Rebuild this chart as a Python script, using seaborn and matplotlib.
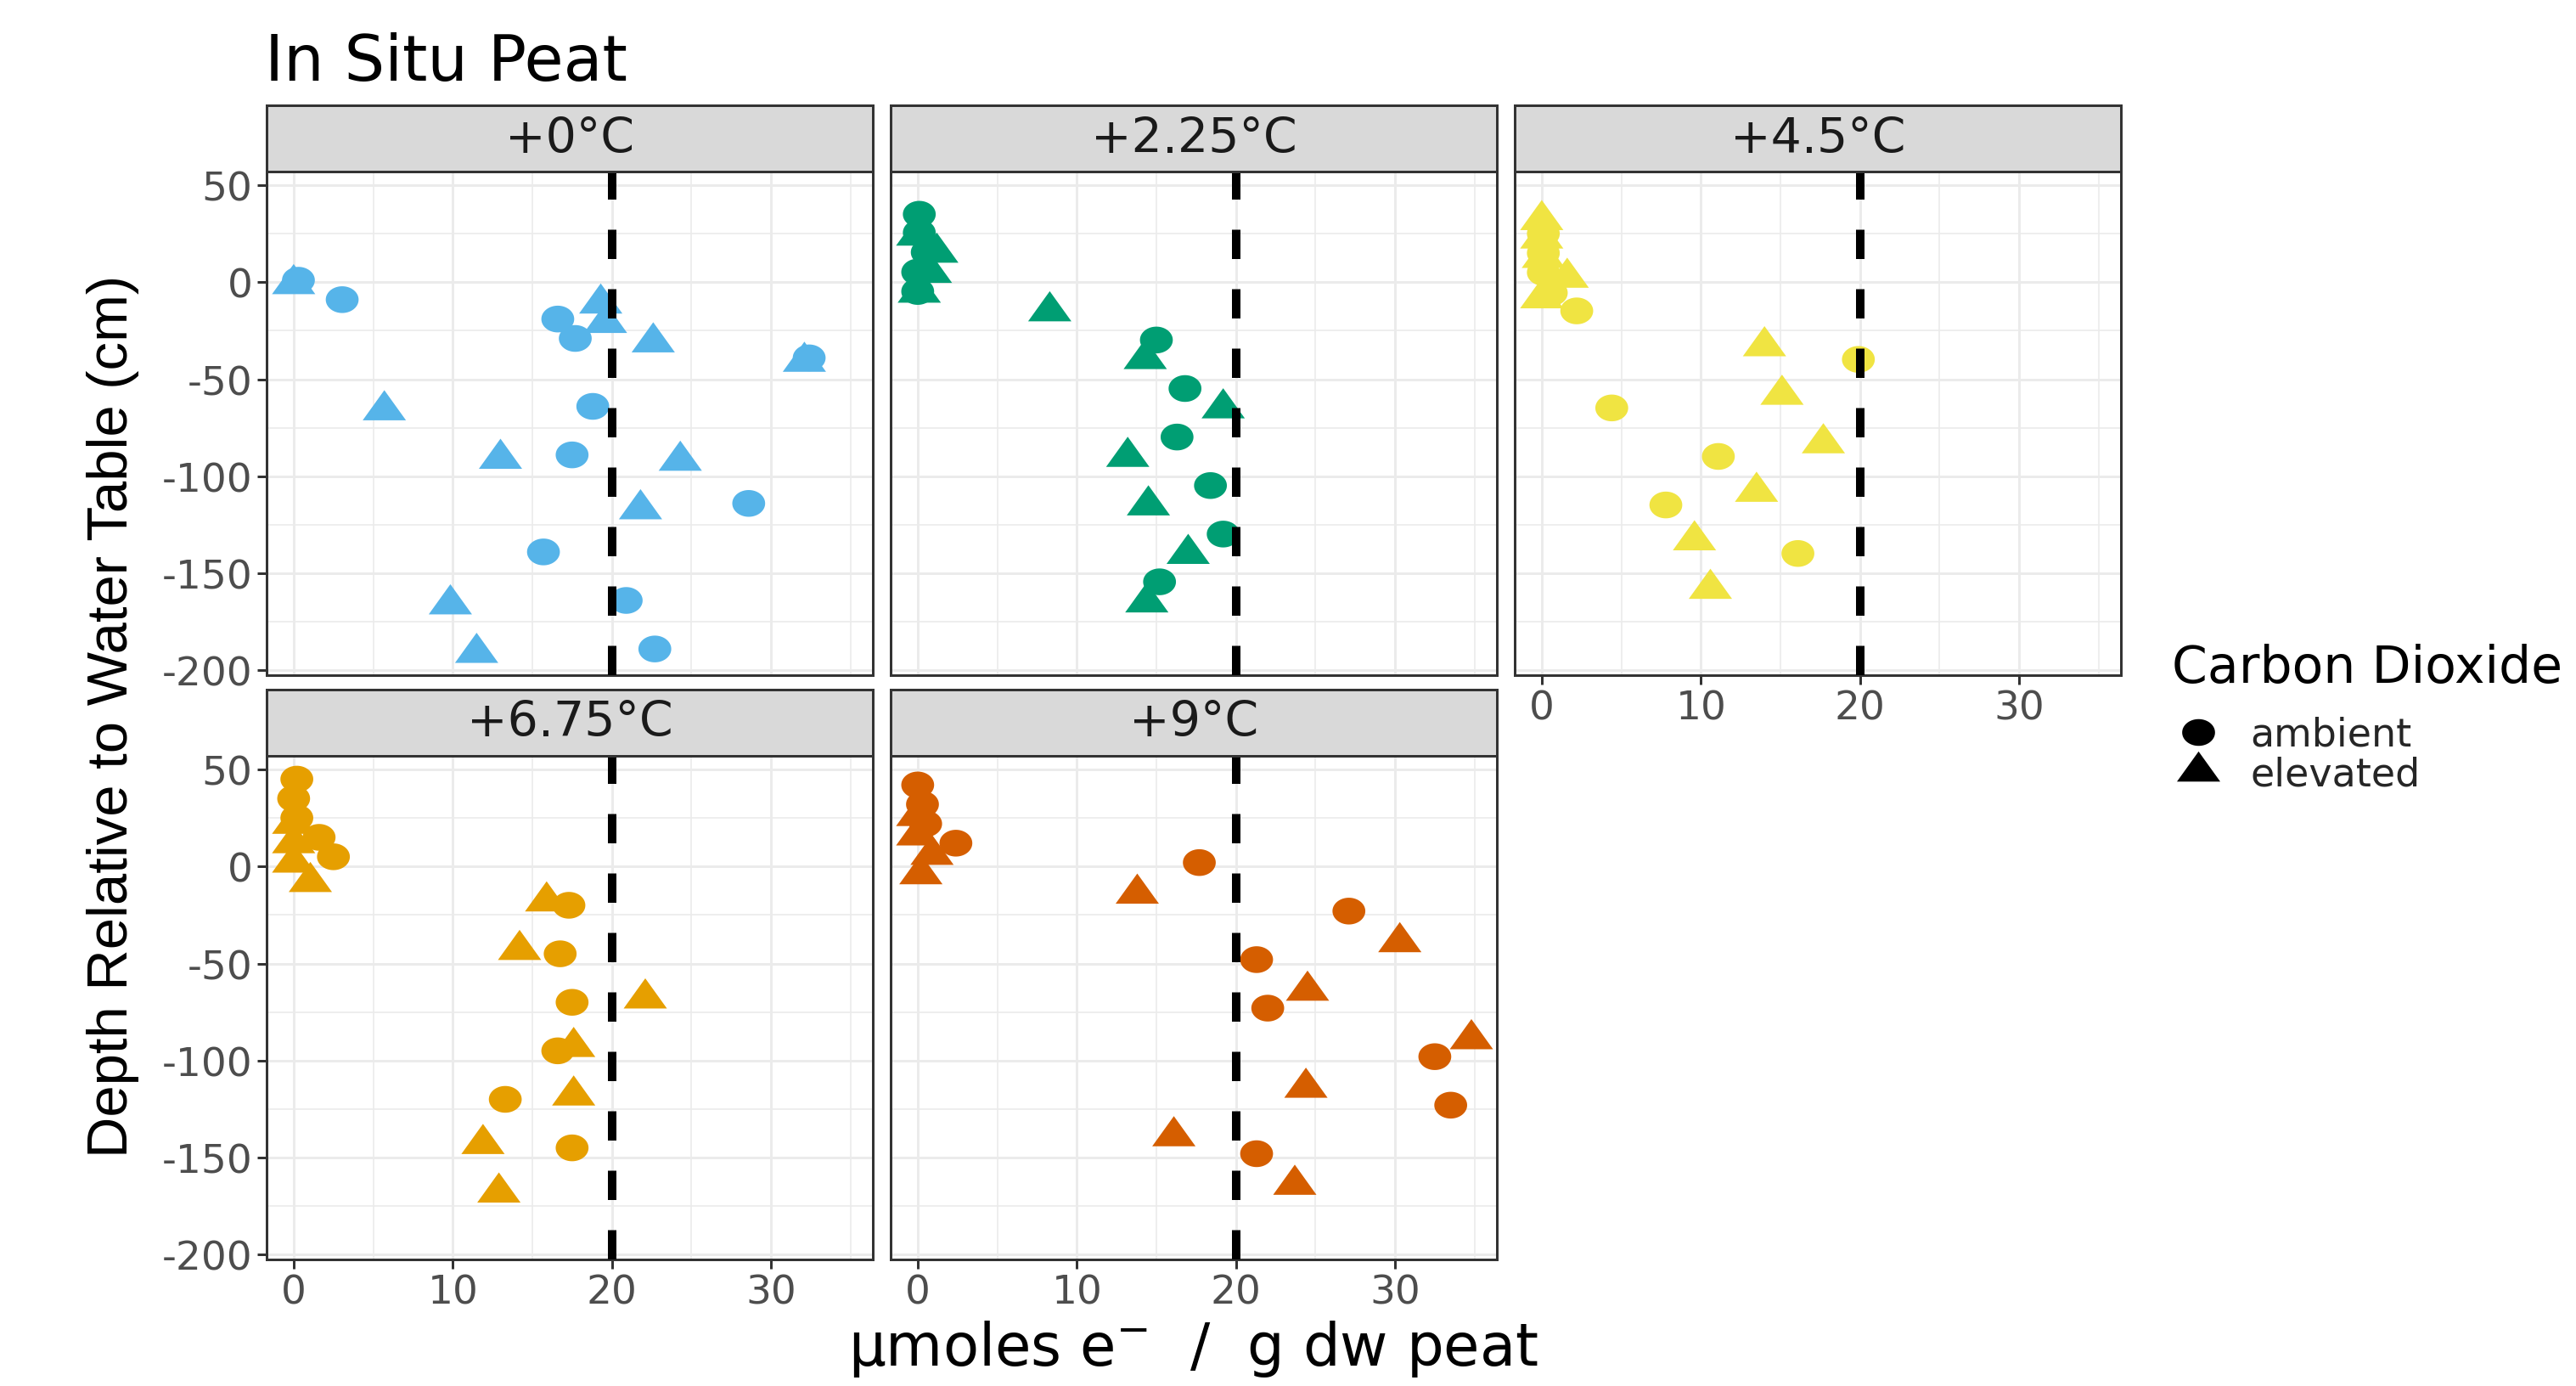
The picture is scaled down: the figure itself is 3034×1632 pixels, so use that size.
import numpy as np
import pandas as pd
import matplotlib
matplotlib.use("Agg")
import matplotlib.pyplot as plt
from matplotlib.path import Path
from matplotlib.lines import Line2D
import seaborn as sns

# ---------------- data ----------------
panels = ["+0°C", "+2.25°C", "+4.5°C", "+6.75°C", "+9°C"]
panel_colors = ["#56B4E9", "#009E73", "#F0E442", "#E69F00", "#D55E00"]
co2_levels = ["ambient", "elevated"]

# +0°C
amb_x_0 = [0.3, 3.05, 16.6, 17.7, 32.4, 18.8, 17.5, 28.6, 15.7, 20.9, 22.7]
amb_y_0 = [1, -9, -19, -29, -39, -64, -89, -114, -139, -164, -189]
elv_x_0 = [0.0, 19.3, 19.6, 22.6, 32.1, 5.7, 13.0, 24.3, 21.8, 9.85, 11.5]
elv_y_0 = [-1, -11, -21, -31, -41, -66, -91, -92, -117, -166, -191]
# +2.25°C
amb_x_1 = [0.1, 0.1, 0.6, 0.0, 0.0, 15.0, 16.8, 16.3, 18.4, 19.2, 15.2]
amb_y_1 = [35, 25.5, 15.4, 5.2, -4.8, -29.8, -54.8, -79.8, -104.8, -129.8, -154.4]
elv_x_1 = [0.0, 1.2, 0.8, 0.1, 8.3, 14.3, 19.2, 13.2, 14.5, 17.0, 14.4]
elv_y_1 = [24, 15.2, 4.8, -5.4, -15, -39.6, -65, -90, -115, -140, -165]
# +4.5°C
amb_x_2 = [0.1, 0.1, 0.1, 0.6, 2.2, 19.9, 4.4, 11.1, 7.8, 16.1]
amb_y_2 = [25, 15, 5, -5.5, -14.8, -39.8, -64.8, -89.8, -114.8, -139.8]
elv_x_2 = [0.0, 0.0, 0.1, 1.6, 0.0, 14.0, 15.1, 17.7, 13.5, 9.6, 10.6]
elv_y_2 = [32, 22.5, 12.5, 2.3, -8.3, -33, -58, -83, -108, -133, -158]
# +6.75°C
amb_x_3 = [0.2, 0.0, 0.2, 1.6, 2.5, 17.3, 16.75, 17.5, 16.6, 13.3, 17.5]
amb_y_3 = [45, 35, 25, 15, 5, -20, -45, -70, -95, -120, -145]
elv_x_3 = [0.0, 0.0, 0.0, 1.05, 15.9, 14.2, 22.1, 17.6, 17.6, 11.9, 12.9]
elv_y_3 = [22, 12, 2, -8, -18, -43, -68, -93, -118, -143, -168]
# +9°C
amb_x_4 = [0.0, 0.3, 0.5, 2.4, 17.7, 27.1, 21.3, 22.0, 32.5, 33.5, 21.3]
amb_y_4 = [42, 32, 22, 12, 2, -23, -48, -73, -98, -123, -148]
elv_x_4 = [0.0, 0.0, 0.9, 0.2, 13.8, 30.3, 24.5, 34.8, 24.4, 16.1, 23.7]
elv_y_4 = [26, 16, 6, -4, -14, -39, -64, -89, -114, -139, -164]

threshold = 20
x_ticks = [0, 10, 20, 30]
x_tick_labels = ["0", "10", "20", "30"]
y_ticks = [50, 0, -50, -100, -150, -200]
y_tick_labels = ["50", "0", "-50", "-100", "-150", "-200"]

amb_x = [amb_x_0, amb_x_1, amb_x_2, amb_x_3, amb_x_4]
amb_y = [amb_y_0, amb_y_1, amb_y_2, amb_y_3, amb_y_4]
elv_x = [elv_x_0, elv_x_1, elv_x_2, elv_x_3, elv_x_4]
elv_y = [elv_y_0, elv_y_1, elv_y_2, elv_y_3, elv_y_4]

rows = []
for p, ax_, ay_, ex_, ey_ in zip(panels, amb_x, amb_y, elv_x, elv_y):
    for v, d in zip(ax_, ay_):
        rows.append((p, "ambient", v, d))
    for v, d in zip(ex_, ey_):
        rows.append((p, "elevated", v, d))
df = pd.DataFrame(rows, columns=["panel", "co2", "value", "depth"])

# ---------------- style ----------------
W, H, DPI = 3034, 1633, 100
sns.set_theme(style="white")
plt.rcParams["font.family"] = ["DejaVu Sans"]
plt.rcParams["axes.unicode_minus"] = False

PT = 72.0 / DPI  # px -> pt


def ellipse_path(w, h, n=72):
    t = np.linspace(0, 2 * np.pi, n)
    verts = np.column_stack([w / 2 * np.cos(t), h / 2 * np.sin(t)])
    codes = [Path.MOVETO] + [Path.LINETO] * (n - 2) + [Path.CLOSEPOLY]
    return Path(verts, codes)


def triangle_path(w, h):
    verts = [(0, 2 * h / 3), (-w / 2, -h / 3), (w / 2, -h / 3), (0, 2 * h / 3)]
    codes = [Path.MOVETO, Path.LINETO, Path.LINETO, Path.CLOSEPOLY]
    return Path(verts, codes)


circ_w, circ_h = 38.7, 31.5
tri_w, tri_h = 51.0, 35.5
circ_marker = ellipse_path(circ_w, circ_h)
tri_marker = triangle_path(tri_w, tri_h)
circ_ms = circ_w * PT            # marker size in pt (max extent = width)
tri_ms = tri_w * PT
markers = {"ambient": (circ_marker, circ_ms), "elevated": (tri_marker, tri_ms)}

col_x = [(314, 1028), (1049, 1763), (1784, 2498)]
row_y = [(203, 796), (891, 1484)]
strip_h = 78
xlim = (-1.7, 36.4)
ylim = (-202.5, 57.0)

grid_c = "#EBEBEB"
border_c = "#333333"
tick_c = "#4D4D4D"
tick_fs = 47 * PT


def rect(x0, y0, x1, y1):
    return [x0 / W, 1 - y1 / H, (x1 - x0) / W, (y1 - y0) / H]


fig = plt.figure(figsize=(W / DPI, H / DPI), dpi=DPI)
fig.patch.set_facecolor("white")

for i, (name, color) in enumerate(zip(panels, panel_colors)):
    r, c = divmod(i, 3)
    (x0, x1), (y0, y1) = col_x[c], row_y[r]
    ax = fig.add_axes(rect(x0, y0, x1, y1))
    ax.set_facecolor("white")
    sub = df[df["panel"] == name]
    for lvl in ["elevated", "ambient"]:
        mk, ms = markers[lvl]
        sns.scatterplot(data=sub[sub["co2"] == lvl], x="value", y="depth",
                        marker=mk, s=ms ** 2, color=color, linewidth=0,
                        edgecolor="none", legend=False, ax=ax, zorder=3)
    ax.axvline(threshold, color="black", lw=10 * PT, dashes=(3.45, 3.55),
               zorder=4)
    ax.set_xlim(*xlim)
    ax.set_ylim(*ylim)
    ax.set_xlabel("")
    ax.set_ylabel("")
    ax.set_xticks(x_ticks)
    ax.set_xticks([5, 15, 25, 35], minor=True)
    ax.set_yticks(y_ticks)
    ax.set_yticks([25, -25, -75, -125, -175], minor=True)
    ax.set_axisbelow(True)
    ax.grid(which="major", color=grid_c, lw=3 * PT)
    ax.grid(which="minor", color=grid_c, lw=1.6 * PT)
    for s in ax.spines.values():
        s.set_color(border_c)
        s.set_linewidth(3 * PT)
    ax.tick_params(which="minor", length=0)
    ax.tick_params(which="major", length=11 * PT, width=3 * PT, color=border_c,
                   labelsize=tick_fs, labelcolor=tick_c)
    ax.tick_params(axis="y", pad=4.0)
    ax.tick_params(axis="x", pad=4.0)
    show_y = (c == 0)
    show_x = (r == 1) or (i == 2)
    ax.tick_params(axis="y", left=show_y, labelleft=show_y)
    ax.tick_params(axis="x", bottom=show_x, labelbottom=show_x)
    if show_y:
        ax.set_yticklabels(y_tick_labels)
    if show_x:
        ax.set_xticklabels(x_tick_labels)

    sax = fig.add_axes(rect(x0, y0 - strip_h, x1, y0))
    sax.set_facecolor("#D9D9D9")
    sax.set_xticks([])
    sax.set_yticks([])
    for s in sax.spines.values():
        s.set_color(border_c)
        s.set_linewidth(3 * PT)
    sax.text(0.5, 0.5, name, ha="center", va="center", transform=sax.transAxes,
             fontsize=57 * PT, color="#1A1A1A")

# titles
fig.text(312 / W, 1 - 95 / H, "In Situ Peat", ha="left", va="baseline",
         fontsize=75 * PT, color="black")
fig.text(1406 / W, 1 - 1608 / H, r"μmoles e$^{-}$  /  g dw peat", ha="center",
         va="baseline", fontsize=69 * PT, color="black")
fig.text(133 / W, 1 - 843 / H, "Depth Relative to Water Table (cm)",
         rotation=90, ha="center", va="center", fontsize=67 * PT,
         family=["Liberation Sans", "DejaVu Sans"], color="black")

# legend
fig.text(2558 / W, 1 - 804 / H, "Carbon Dioxide", ha="left", va="baseline",
         fontsize=60 * PT, color="black")
handles = [Line2D([], [], ls="none", marker=markers[l][0], markersize=markers[l][1],
                  color="black", markeredgewidth=0) for l in co2_levels]
fig.legend(handles=handles, labels=co2_levels, loc="upper left",
           bbox_to_anchor=(2564 / W, 1 - 844 / H), frameon=False,
           prop={"size": 46 * PT}, handlelength=1.1, handleheight=0.7,
           handletextpad=0.77, labelspacing=0.03, borderpad=0, borderaxespad=0)

fig.savefig("out.png", dpi=DPI, facecolor="white")
